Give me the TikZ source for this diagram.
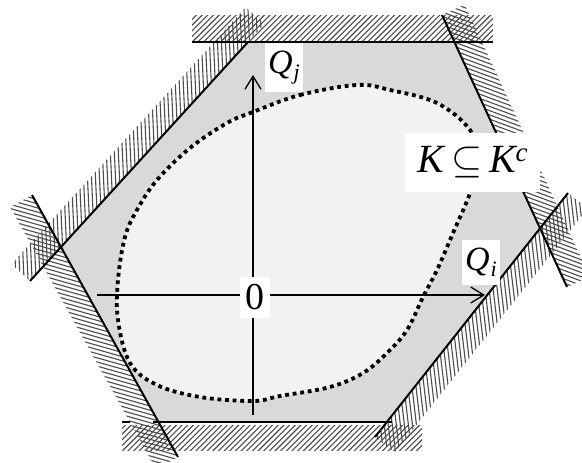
\documentclass[tikz,border=0pt]{standalone}
\usepackage{fix-cm}
\usepackage{fontspec}
\setmainfont{Liberation Serif}
\usetikzlibrary{arrows.meta}
\definecolor{hexgray}{RGB}{217,217,217}
\definecolor{ingray}{RGB}{242,242,242}
\tikzset{
  edgeline/.style={line width=2pt, black},
  flatline/.style={line width=2.6pt, black},
  hatchline/.style={line width=1.1pt, black!70},
  axisline/.style={line width=1.3pt, -{Straight Barb[length=13pt,width=16pt,line width=1.3pt]}},
  dotcurve/.style={line width=3.8pt, dash pattern=on 3.8pt off 3.8pt, fill=ingray},
  labelbox/.style={fill=white, inner sep=0pt},
}
\newcommand{\hband}[3]{%
  \begin{scope}
    \clip #1;
    \begin{scope}[shift={#2}, rotate=#3]
      \foreach \t in {-180,-176,...,180} \draw[hatchline] (\t,-200) -- (\t,200);
    \end{scope}
  \end{scope}}
\begin{document}
\begin{tikzpicture}[x=1pt,y=-1pt]
\useasboundingbox (0,0) rectangle (582,463);
% line end points
\coordinate (t1) at (192,42);  \coordinate (t2) at (493,42);
\coordinate (ur1) at (442,15); \coordinate (ur2) at (567,287);
\coordinate (lr1) at (375,437);\coordinate (lr2) at (568,193);
\coordinate (b1) at (122,422); \coordinate (b2) at (392,422);
\coordinate (bg1) at (130,422);\coordinate (bg2) at (153,422);
\coordinate (ll1) at (32,195); \coordinate (ll2) at (178,457);
\coordinate (ul1) at (30,281); \coordinate (ul2) at (248,42);
% hexagon vertices
\coordinate (V1) at (intersection of ul1--ul2 and t1--t2);
\coordinate (V2) at (intersection of t1--t2 and ur1--ur2);
\coordinate (V3) at (intersection of ur1--ur2 and lr1--lr2);
\coordinate (V4) at (intersection of lr1--lr2 and b1--b2);
\coordinate (V5) at (intersection of b1--b2 and ll1--ll2);
\coordinate (V6) at (intersection of ll1--ll2 and ul1--ul2);
\fill[hexgray] (V1) -- (V2) -- (V3) -- (V4) -- (V5) -- (V6) -- cycle;
% inner set K
\draw[dotcurve] plot[smooth cycle, tension=0.6] coordinates {
  (253,112) (300,95) (357,85) (390,90) (437,103) (470,130) (478,160)
  (470,193) (453,233) (437,270) (423,297) (407,330) (387,353) (363,373)
  (330,387) (280,396) (253,401) (200,397) (157,385) (130,363) (118,320)
  (118,280) (125,237) (137,210) (157,180) (190,148) (227,123)};
% hatched bands
\hband{(192,15) -- (493,15) -- (493,40) -- (192,40) -- cycle}{(342.5,27.5)}{-45}
\hband{(30,281) -- (264.4,24) -- (245.9,7.1) -- (11.5,264.1) -- cycle}{(138,144)}{2.6}
\hband{(442,15) -- (567,287) -- (589.7,276.6) -- (464.7,4.6) -- cycle}{(516,146)}{-110.3}
\hband{(375,437) -- (568,193) -- (587.6,208.5) -- (394.6,452.5) -- cycle}{(481,323)}{6.7}
\hband{(122,425) -- (422,425) -- (422,450) -- (122,450) -- cycle}{(272,437)}{-45}
\hband{(32,195) -- (178,457) -- (156.2,469.2) -- (10.2,207.2) -- cycle}{(94,332)}{-105.8}
% edge lines
\draw[flatline] (t1) -- (t2);
\draw[flatline] (b1) -- (bg1) (bg2) -- (b2);
\draw[edgeline] (ul1) -- (ul2);
\draw[edgeline] (ur1) -- (ur2);
\draw[edgeline] (lr1) -- (lr2);
\draw[edgeline] (ll1) -- (ll2);
% axes
\coordinate (xa) at (97,295);  \coordinate (xb) at (485,295);
\coordinate (ya) at (253,415); \coordinate (yb) at (253,75);
\draw[axisline] (xa) -- (xb);
\draw[axisline] (ya) -- (yb);
% labels
\node[labelbox, minimum width=38pt, minimum height=49pt] (qj) at (284,67.5)
  {\fontsize{34}{34}\selectfont\itshape Q\kern1pt\raisebox{-6pt}{\fontsize{22}{22}\selectfont j}};
\node[labelbox, minimum width=38pt, minimum height=45pt] (qi) at (481,262.5)
  {\fontsize{34}{34}\selectfont\itshape Q\kern1pt\raisebox{-6pt}{\fontsize{22}{22}\selectfont i}};
\node[labelbox, minimum width=30pt, minimum height=41pt] (zero) at (255,297.5)
  {\fontsize{38}{38}\selectfont 0};
\node[labelbox, minimum width=135pt, minimum height=59pt] (klab) at (472.5,162.5)
  {\fontsize{40}{40}\selectfont\itshape K\kern8pt$\subseteq$\kern6pt K\raisebox{11pt}{\fontsize{27}{27}\selectfont c}};
\end{tikzpicture}
\end{document}
